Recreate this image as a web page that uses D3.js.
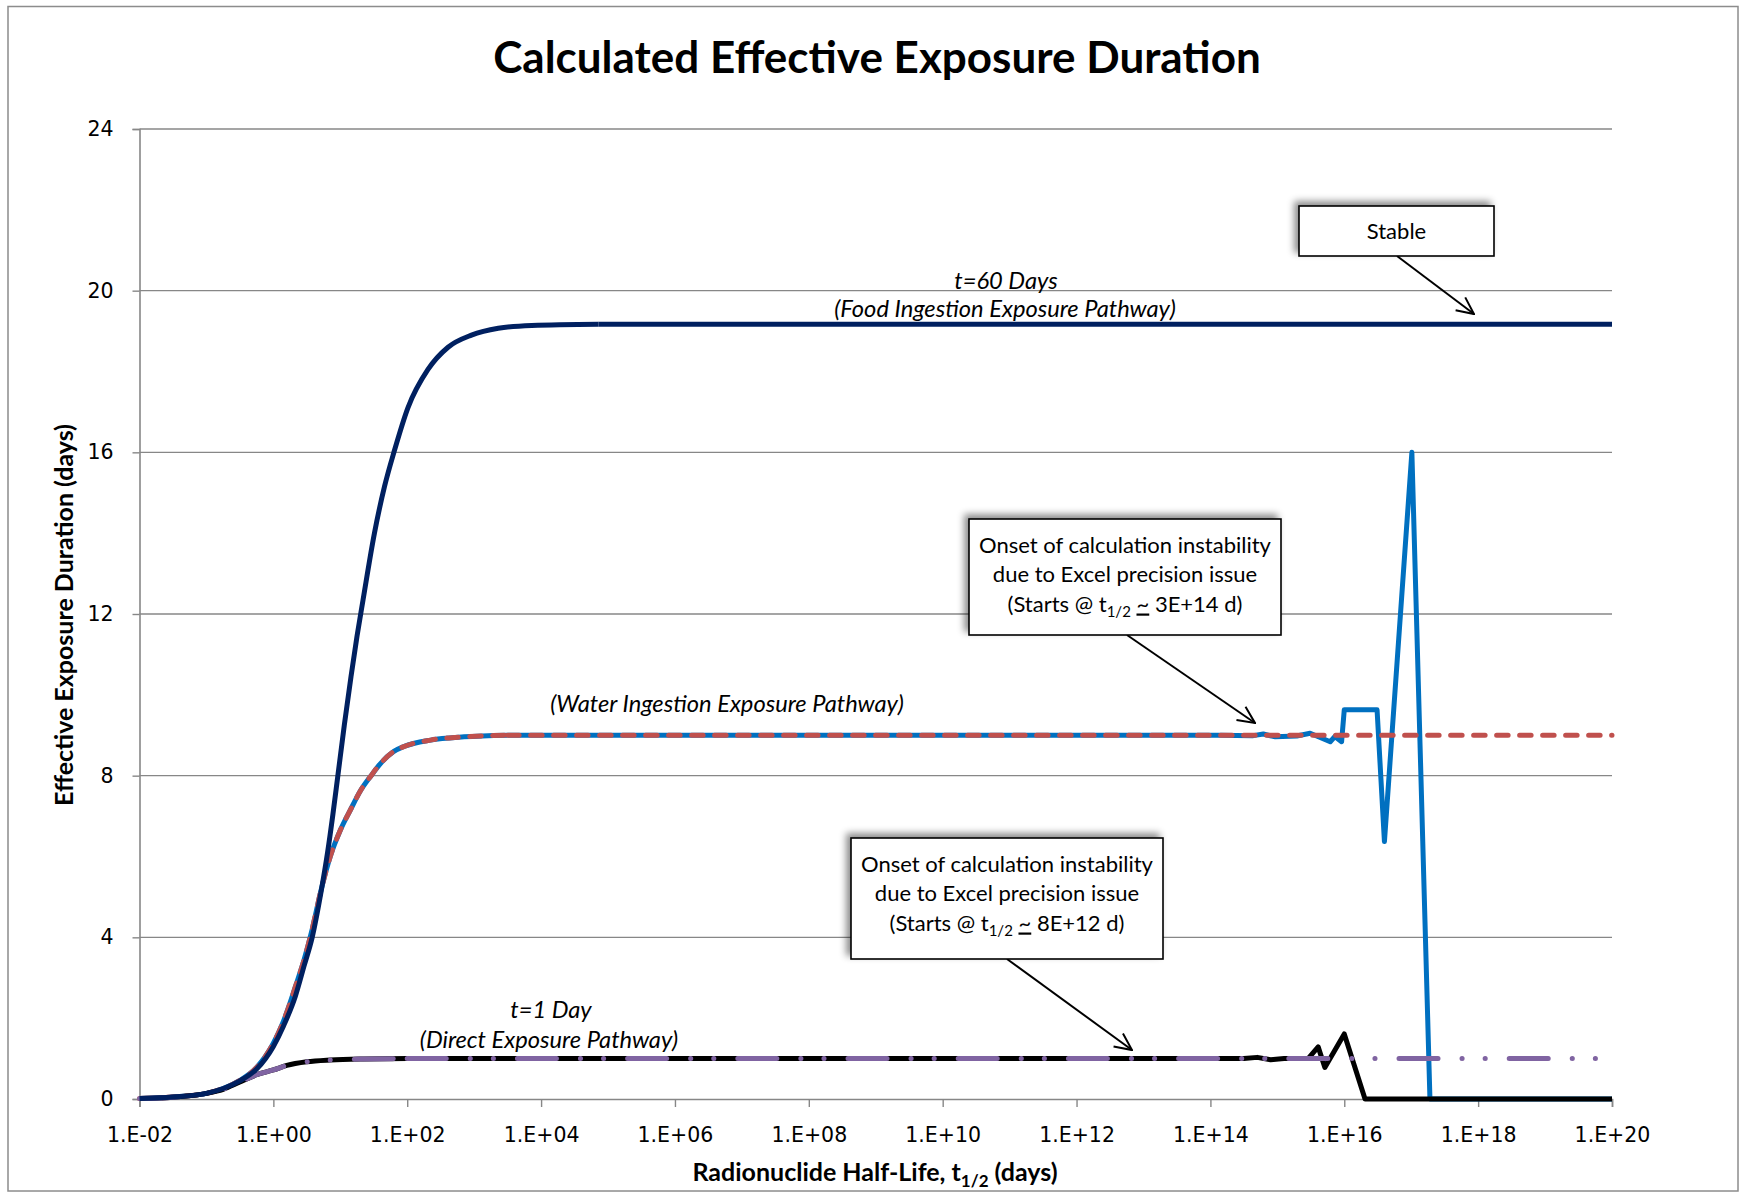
<!DOCTYPE html>
<html>
<head>
<meta charset="utf-8">
<script src="https://cdn.jsdelivr.net/npm/d3@7"></script>
<style>
  body { margin: 0; background: #fff; }
  text { fill: #000; }
</style>
</head>
<body>
<svg id="chart"></svg>
<script>
// Calculated effective exposure duration vs radionuclide half-life (log x axis)

const width = 1747;
const height = 1193;
const plot = { left: 139.5, right: 1612, top: 129, bottom: 1099 };

// axis ticks
const xTickExps = [-2, 0, 2, 4, 6, 8, 10, 12, 14, 16, 18, 20];
const yTicks = [0, 4, 8, 12, 16, 20, 24];

// half-life as log10(days), value in days
// t=60 days, food ingestion
const foodExp = [-2, -1.5, -1, -0.75, -0.5, -0.25, 0, 0.15, 0.33, 0.46, 0.58, 0.71, 0.81, 0.89, 0.96,
  1.06, 1.16, 1.25, 1.34, 1.51, 1.66, 1.81, 2.01, 2.31, 2.61, 2.96, 3.36, 3.86, 4.86, 20];
const foodDays = [0.01, 0.05, 0.14, 0.26, 0.45, 0.74, 1.3, 1.8, 2.55, 3.3, 4.0, 5.1, 6.1, 7.05, 7.95,
  9.25, 10.45, 11.45, 12.35, 14.0, 15.15, 16.05, 17.1, 18.05, 18.6, 18.9, 19.07, 19.14, 19.17, 19.17];

// water ingestion, Excel calculation (blue)
const waterExp = [-2, -1.5, -1, -0.75, -0.5, -0.25, 0, 0.15, 0.33, 0.46, 0.58, 0.71, 0.85, 1.0, 1.15,
  1.31, 1.46, 1.6, 1.8, 1.95, 2.35, 2.85, 3.5, 14.14, 14.64, 14.79, 14.97, 15.29, 15.49, 15.79, 15.86,
  15.96, 16.0, 16.49, 16.6, 17.01, 17.28, 20];
const waterDays = [0.01, 0.05, 0.14, 0.26, 0.46, 0.78, 1.38, 1.92, 2.78, 3.45, 4.2, 5.15, 6.0, 6.65, 7.15,
  7.65, 8.0, 8.3, 8.6, 8.72, 8.88, 8.96, 9.0, 9.0, 8.99, 9.03, 8.96, 8.98, 9.05, 8.84, 8.97,
  8.84, 9.63, 9.63, 6.37, 16.0, 0, 0];

// water ingestion, reference (red dashed)
const waterRefExp = [-2, -1.5, -1, -0.75, -0.5, -0.25, 0, 0.15, 0.33, 0.46, 0.58, 0.71, 0.85, 1.0, 1.15,
  1.31, 1.46, 1.6, 1.8, 1.95, 2.35, 2.85, 3.5, 20];
const waterRefDays = [0.01, 0.05, 0.14, 0.26, 0.46, 0.78, 1.38, 1.92, 2.78, 3.45, 4.2, 5.15, 6.0, 6.65, 7.15,
  7.65, 8.0, 8.3, 8.6, 8.72, 8.88, 8.96, 9.0, 9.0];

// t=1 day, direct exposure, Excel calculation (black)
const directExp = [-2, -1.5, -1, -0.75, -0.5, -0.25, 0, 0.2, 0.5, 0.85, 1.35, 2, 14.5, 14.7, 14.9, 15.1,
  15.46, 15.61, 15.71, 16.0, 16.31, 20];
const directDays = [0.01, 0.045, 0.14, 0.24, 0.42, 0.6, 0.72, 0.83, 0.92, 0.965, 0.99, 1.0, 1.0, 1.03, 0.97, 1.0,
  1.0, 1.29, 0.78, 1.61, 0, 0];

// direct exposure, reference (purple dash-dot-dot)
const directRefExp = [-2, -1.5, -1, -0.75, -0.5, -0.25, 0, 0.2, 0.5, 0.85, 1.35, 2, 20];
const directRefDays = [0.01, 0.045, 0.14, 0.24, 0.42, 0.6, 0.72, 0.83, 0.92, 0.965, 0.99, 1.0, 1.0];

const calibri = "Lato, 'Open Sans', sans-serif";
const tickFont = "'DejaVu Sans', Verdana, sans-serif";

const svg = d3.select("#chart").attr("width", width).attr("height", height);

const defs = svg.append("defs");
defs.append("filter")
  .attr("id", "shadow")
  .attr("x", "-20%").attr("y", "-30%").attr("width", "140%").attr("height", "160%")
  .append("feDropShadow")
  .attr("dx", -4).attr("dy", -4).attr("stdDeviation", 3.5)
  .attr("flood-color", "#000").attr("flood-opacity", 0.45);

defs.append("marker")
  .attr("id", "arrow")
  .attr("markerUnits", "userSpaceOnUse")
  .attr("viewBox", "0 0 20 20")
  .attr("refX", 19).attr("refY", 10)
  .attr("markerWidth", 20).attr("markerHeight", 20)
  .attr("orient", "auto")
  .append("path")
  .attr("d", "M2,2 L19,10 L2,18")
  .attr("fill", "none").attr("stroke", "#000").attr("stroke-width", 2);

// outer chart border
svg.append("rect")
  .attr("x", 8).attr("y", 6.5).attr("width", 1730).attr("height", 1184.5)
  .attr("fill", "#fff").attr("stroke", "#8c8c8c").attr("stroke-width", 1.5);

const x = d3.scaleLog().domain([1e-2, 1e20]).range([plot.left, plot.right]);
const y = d3.scaleLinear().domain([0, 24]).range([plot.bottom, plot.top]);

// gridlines
svg.append("g")
  .selectAll("line")
  .data(yTicks.filter((d) => d > 0))
  .enter()
  .append("line")
  .attr("x1", plot.left).attr("x2", plot.right)
  .attr("y1", (d) => y(d)).attr("y2", (d) => y(d))
  .attr("stroke", "#878787").attr("stroke-width", 1.4);

// y axis
const yAxis = d3.axisLeft(y).tickValues(yTicks).tickSize(7).tickPadding(19);
svg.append("g")
  .attr("transform", `translate(${plot.left},0)`)
  .call(yAxis)
  .call((g) => g.select(".domain").attr("stroke", "#878787").attr("stroke-width", 1.6))
  .call((g) => g.selectAll(".tick line").attr("stroke", "#878787").attr("stroke-width", 1.4))
  .call((g) => g.selectAll("text").attr("font-family", tickFont).attr("font-size", 20.5).attr("fill", "#000"));

// x axis
const xAxis = d3.axisBottom(x)
  .tickValues(xTickExps.map((e) => Math.pow(10, e)))
  .tickSize(8)
  .tickPadding(20)
  .tickFormat((d, i) => {
    const e = xTickExps[i];
    return "1.E" + (e < 0 ? "-" : "+") + String(Math.abs(e)).padStart(2, "0");
  });
svg.append("g")
  .attr("transform", `translate(0,${plot.bottom})`)
  .call(xAxis)
  .call((g) => g.select(".domain").attr("stroke", "#878787").attr("stroke-width", 1.6))
  .call((g) => g.selectAll(".tick line").attr("stroke", "#878787").attr("stroke-width", 1.4))
  .call((g) => g.selectAll("text").attr("font-family", tickFont).attr("font-size", 20.5).attr("fill", "#000"));

// series, drawn bottom to top
const series = [
  { exp: waterExp, val: waterDays, color: "#0070C0", width: 5 },
  { exp: waterRefExp, val: waterRefDays, color: "#C0504D", width: 5, dash: "11.5,11.5" },
  { exp: directExp, val: directDays, color: "#000000", width: 5 },
  { exp: directRefExp, val: directRefDays, color: "#8064A2", width: 5, dash: "39,24,0.1,23,0.1,24" },
  { exp: foodExp, val: foodDays, color: "#002060", width: 5 },
];

const smoothLine = d3.line().x((d) => x(d[0])).y((d) => y(d[1])).curve(d3.curveMonotoneX);
const straightLine = d3.line().x((d) => x(d[0])).y((d) => y(d[1]));

series.forEach((s) => {
  const pts = s.exp.map((e, i) => [Math.pow(10, e), s.val[i]]);
  // smooth the physical curve, keep the instability zig-zag as straight segments
  const cut = pts.findIndex((p) => p[0] > 1e14);
  const parts = cut < 0 ? [[pts, smoothLine]] : [[pts.slice(0, cut), smoothLine], [pts.slice(cut - 1), straightLine]];
  const g = svg.append("g");
  parts.forEach(([p, gen]) => {
    g.append("path")
      .attr("d", gen(p))
      .attr("fill", "none")
      .attr("stroke", s.color)
      .attr("stroke-width", s.width)
      .attr("stroke-linejoin", "round")
      .attr("stroke-linecap", s.dash ? "round" : "butt")
      .attr("stroke-dasharray", s.dash || null);
  });
});

// title and axis titles
svg.append("text")
  .attr("x", 877).attr("y", 73)
  .attr("text-anchor", "middle")
  .attr("font-family", calibri).attr("font-weight", "bold").attr("font-size", 44)
  .text("Calculated Effective Exposure Duration");

svg.append("text")
  .attr("transform", "translate(73,615) rotate(-90)")
  .attr("text-anchor", "middle")
  .attr("font-family", calibri).attr("font-weight", "bold").attr("font-size", 25)
  .text("Effective Exposure Duration (days)");

const xTitle = svg.append("text")
  .attr("x", 875).attr("y", 1181)
  .attr("text-anchor", "middle")
  .attr("font-family", calibri).attr("font-weight", "bold").attr("font-size", 25);
xTitle.append("tspan").text("Radionuclide Half-Life, t");
xTitle.append("tspan").attr("font-size", 17).attr("dy", 6).text("1/2");
xTitle.append("tspan").attr("dy", -6).text(" (days)");

// curve labels
const curveLabel = (tx, ty, txt) =>
  svg.append("text")
    .attr("x", tx).attr("y", ty)
    .attr("text-anchor", "middle")
    .attr("font-family", calibri).attr("font-style", "italic").attr("font-size", 23.7)
    .text(txt);

curveLabel(1006, 289, "t=60 Days");
curveLabel(1005, 317, "(Food Ingestion Exposure Pathway)");
curveLabel(727, 712, "(Water Ingestion Exposure Pathway)");
curveLabel(551, 1018, "t=1 Day");
curveLabel(549, 1048, "(Direct Exposure Pathway)");

// callout boxes with arrows
const callout = (bx, by, bw, bh, from, to, lines, textDy) => {
  svg.append("line")
    .attr("x1", from[0]).attr("y1", from[1]).attr("x2", to[0]).attr("y2", to[1])
    .attr("stroke", "#000").attr("stroke-width", 2)
    .attr("marker-end", "url(#arrow)");
  svg.append("rect")
    .attr("x", bx).attr("y", by).attr("width", bw).attr("height", bh)
    .attr("fill", "#fff").attr("stroke", "#000").attr("stroke-width", 1.6)
    .attr("filter", "url(#shadow)");
  const cx = bx + bw / 2;
  const n = lines.length;
  lines.forEach((ln, i) => {
    const t = svg.append("text")
      .attr("x", cx)
      .attr("y", by + bh / 2 + (i - (n - 1) / 2) * 29.5 + textDy)
      .attr("text-anchor", "middle")
      .attr("font-family", calibri).attr("font-size", 22);
    if (typeof ln === "string") {
      t.text(ln);
    } else {
      // "(Starts @ t1/2 ~ NE+NN d)"
      t.append("tspan").text("(Starts @ t");
      t.append("tspan").attr("font-size", 15).attr("dy", 5).text("1/2");
      t.append("tspan").attr("dy", -5).text(" ");
      t.append("tspan").style("text-decoration", "underline").text("~");
      t.append("tspan").text(" " + ln.value + " d)");
    }
  });
};

callout(1299, 206, 195, 50, [1397, 256], [1474, 314], ["Stable"], 8);
callout(969, 519, 312, 116, [1127, 635], [1255, 723],
  ["Onset of calculation instability", "due to Excel precision issue", { value: "3E+14" }], 5);
callout(851, 838, 312, 121, [1007, 959], [1132, 1050],
  ["Onset of calculation instability", "due to Excel precision issue", { value: "8E+12" }], 2.5);
</script>
</body>
</html>
